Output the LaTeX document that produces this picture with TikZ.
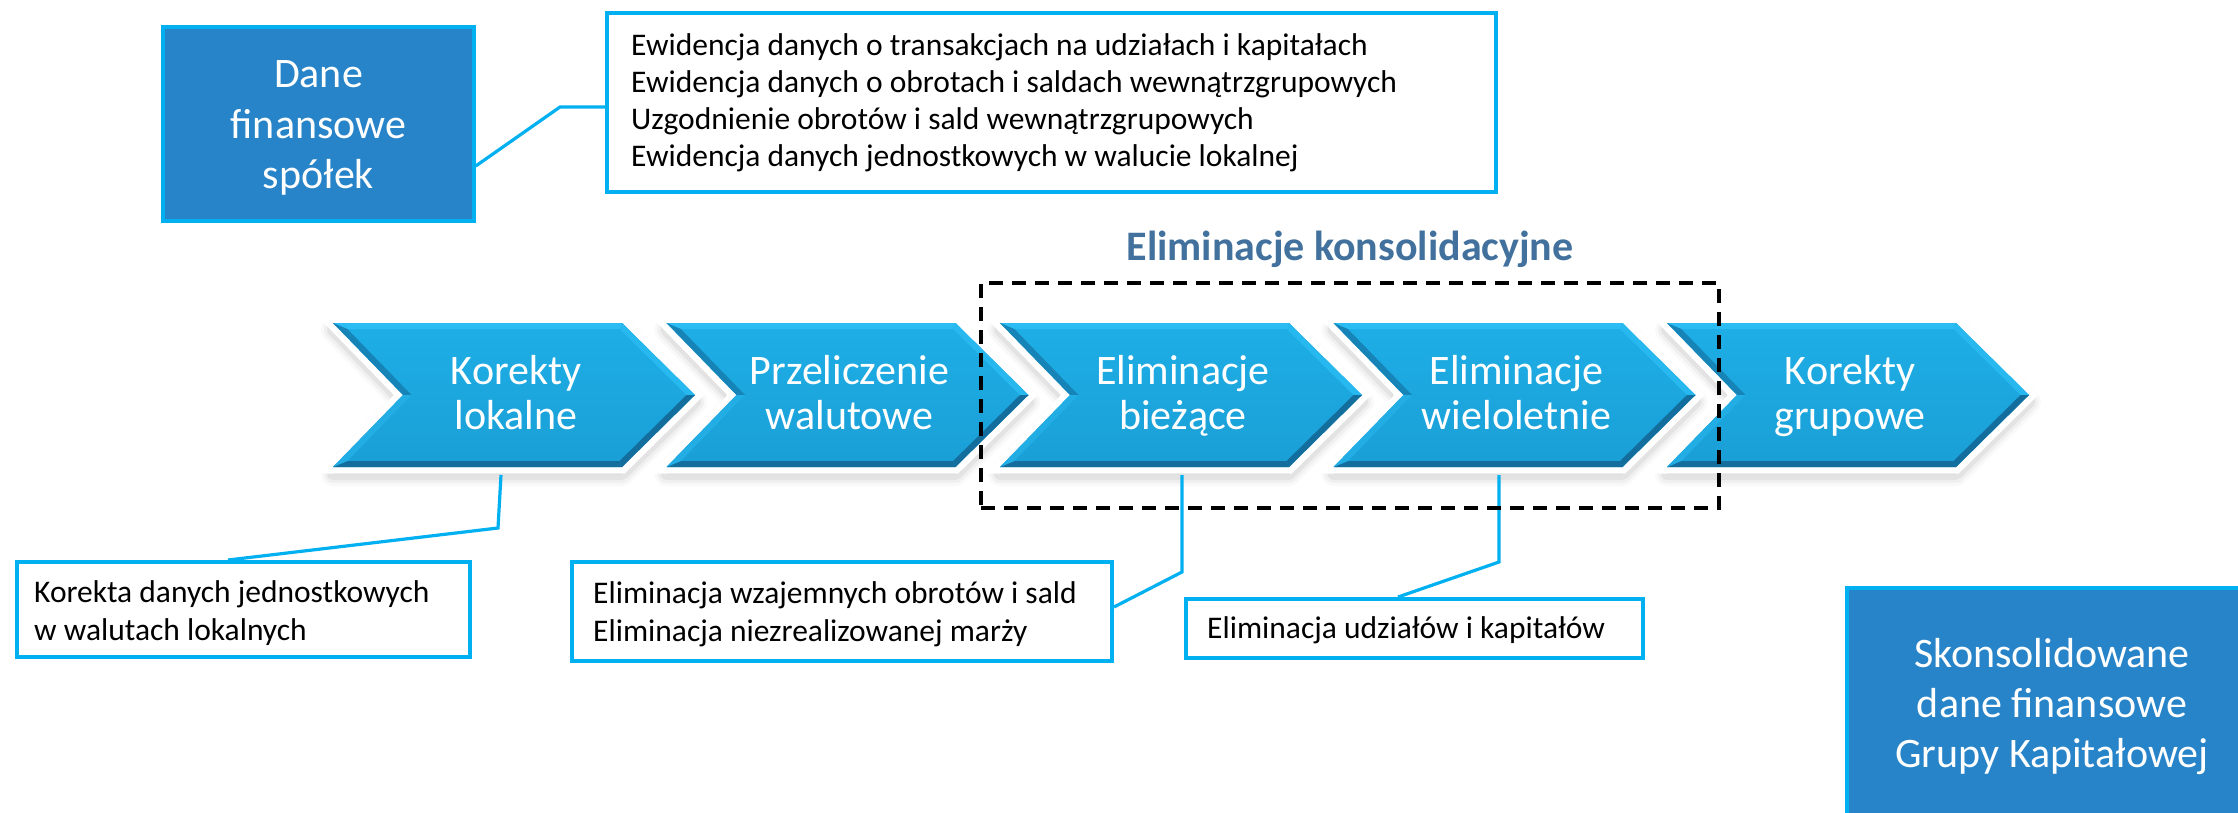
\documentclass[tikz,border=0pt]{standalone}
\usepackage{fontspec}
\setmainfont{Carlito}
\usetikzlibrary{calc}
\definecolor{dblue}{HTML}{2884C8}
\definecolor{cyanb}{HTML}{00B0F0}
\definecolor{chevtop}{HTML}{1EAEE6}
\definecolor{chevbot}{HTML}{1A9FD6}
\definecolor{chevlt}{HTML}{2ABCF3}
\definecolor{chevdk}{HTML}{146E9D}
\definecolor{chevmd}{HTML}{1784B8}
\definecolor{titlec}{HTML}{41719C}
\newcommand\mychevron[1]{%
  \begin{scope}[shift={(#1,0)}]
    \foreach \w/\o in {24/0.025,18/0.035,12/0.05}{
      \filldraw[black, opacity=\o, line width=\w pt, line join=round, shift={(0,7)}]
        (0,323) -- (289,323) -- (362,395) -- (289,467) -- (0,467) -- (70,395) -- cycle;}
    \filldraw[white, line width=13pt, line join=miter]
      (0,323) -- (289,323) -- (362,395) -- (289,467) -- (0,467) -- (70,395) -- cycle;
    \shade[top color=chevtop, bottom color=chevbot]
      (0,323) -- (289,323) -- (362,395) -- (289,467) -- (0,467) -- (70,395) -- cycle;
    \fill[chevlt] (0,323) -- (289,323) -- (286.6,329) -- (14.3,329) -- cycle;
    \fill[chevlt!70!chevtop] (289,323) -- (362,395) -- (353.5,395) -- (286.6,329) -- cycle;
    \fill[chevdk] (362,395) -- (289,467) -- (286.6,461) -- (353.5,395) -- cycle;
    \fill[chevdk] (289,467) -- (0,467) -- (14.3,461) -- (286.6,461) -- cycle;
    \fill[chevmd] (0,323) -- (14.3,329) -- (78.5,395) -- (70,395) -- cycle;
    \fill[chevlt!50!chevbot] (70,395) -- (78.5,395) -- (14.3,461) -- (0,467) -- cycle;
  \end{scope}}
\begin{document}
\begin{tikzpicture}[x=1pt,y=-1pt,
  bigtxt/.style={anchor=base, text=white, font=\fontsize{42}{45}\selectfont, inner sep=0pt},
  boxtxt/.style={anchor=base west, text=black, font=\fontsize{31.5}{37}\selectfont, inner sep=0pt},
  darkbox/.style={draw=cyanb, line width=3.5pt, fill=dblue, inner sep=0pt},
  textbox/.style={draw=cyanb, line width=4pt, fill=white, inner sep=0pt},
  callout/.style={draw=cyanb, line width=3.2pt, line join=miter},
  elimbox/.style={draw=black, line width=4.5pt, dash pattern=on 14pt off 9pt}]
\useasboundingbox (0,0) rectangle (2238,812);
\clip (0,0) rectangle (2238,812);
\fill[white] (0,0) rectangle (2238,812);

% boxes
\node[darkbox, minimum width=311pt, minimum height=194pt] (dane) at (318.5,124) {};
\node[textbox, minimum width=889pt, minimum height=179pt] (top) at (1051.5,102.5) {};
\node[textbox, minimum width=453pt, minimum height=95pt] (box1) at (243.5,609.5) {};
\node[textbox, minimum width=540pt, minimum height=99pt] (box2) at (842,611.5) {};
\node[textbox, minimum width=457pt, minimum height=59pt] (box3) at (1414.5,628.5) {};
\node[darkbox, minimum width=410pt, minimum height=242pt] (skons) at (2052,709) {};

% texts in boxes
\node[bigtxt] (dane1) at (318.5,87) {Dane};
\node[bigtxt] (dane2) at (318.5,138) {finansowe};
\node[bigtxt] (dane3) at (318.5,188) {spółek};

\node[boxtxt] (top1) at (631,55.5) {Ewidencja danych o transakcjach na udziałach i kapitałach};
\node[boxtxt] (top2) at (631,92.5) {Ewidencja danych o obrotach i saldach wewnątrzgrupowych};
\node[boxtxt] (top3) at (631,129.5) {Uzgodnienie obrotów i sald wewnątrzgrupowych};
\node[boxtxt] (top4) at (631,166.5) {Ewidencja danych jednostkowych w walucie lokalnej};

\node[boxtxt] (b1a) at (34,602) {Korekta danych jednostkowych};
\node[boxtxt] (b1b) at (34,640) {w walutach lokalnych};
\node[boxtxt] (b2a) at (593,603) {Eliminacja wzajemnych obrotów i sald};
\node[boxtxt] (b2b) at (593,641) {Eliminacja niezrealizowanej marży};
\node[boxtxt] (b3a) at (1207,638) {Eliminacja udziałów i kapitałów};

\node[bigtxt] (sk1) at (2052,667) {Skonsolidowane};
\node[bigtxt] (sk2) at (2052,717) {dane finansowe};
\node[bigtxt] (sk3) at (2052,767) {Grupy Kapitałowej};

% chevrons
\mychevron{333}
\mychevron{666.5}
\mychevron{1000}
\mychevron{1333.5}
\mychevron{1667}

\node[bigtxt] (c1a) at (516,384) {Korekty};
\node[bigtxt] (c1b) at (516,429) {lokalne};
\node[bigtxt] (c2a) at (849.5,384) {Przeliczenie};
\node[bigtxt] (c2b) at (849.5,429) {walutowe};
\node[bigtxt] (c3a) at (1183,384) {Eliminacje};
\node[bigtxt] (c3b) at (1183,429) {bieżące};
\node[bigtxt] (c4a) at (1516.5,384) {Eliminacje};
\node[bigtxt] (c4b) at (1516.5,429) {wieloletnie};
\node[bigtxt] (c5a) at (1850,384) {Korekty};
\node[bigtxt] (c5b) at (1850,429) {grupowe};

% connector points
\coordinate (k0) at (560,107);
\coordinate (ch1) at (501,475);
\coordinate (k1) at (498,528);
\coordinate (ch3) at (1182,475);
\coordinate (k3) at (1182,572);
\coordinate (ch4) at (1499,475);
\coordinate (k4) at (1499,562);

\draw[callout] ([yshift=-42pt]dane.east) -- (k0) -- ([yshift=-4.5pt]top.west);
\draw[callout] (ch1) -- (k1) -- ([xshift=-15.5pt]box1.north);
\draw[callout] (ch3) -- (k3) -- ([yshift=4.5pt]box2.east);
\draw[callout] (ch4) -- (k4) -- ([xshift=-16.5pt]box3.north);

% dashed group
\node[elimbox, minimum width=738pt, minimum height=225pt] (elim) at (1350,395.5) {};
\node[anchor=base, text=titlec, font=\bfseries\fontsize{42}{45}\selectfont, inner sep=0pt] (elimt) at (1350,260) {Eliminacje konsolidacyjne};
\end{tikzpicture}
\end{document}
